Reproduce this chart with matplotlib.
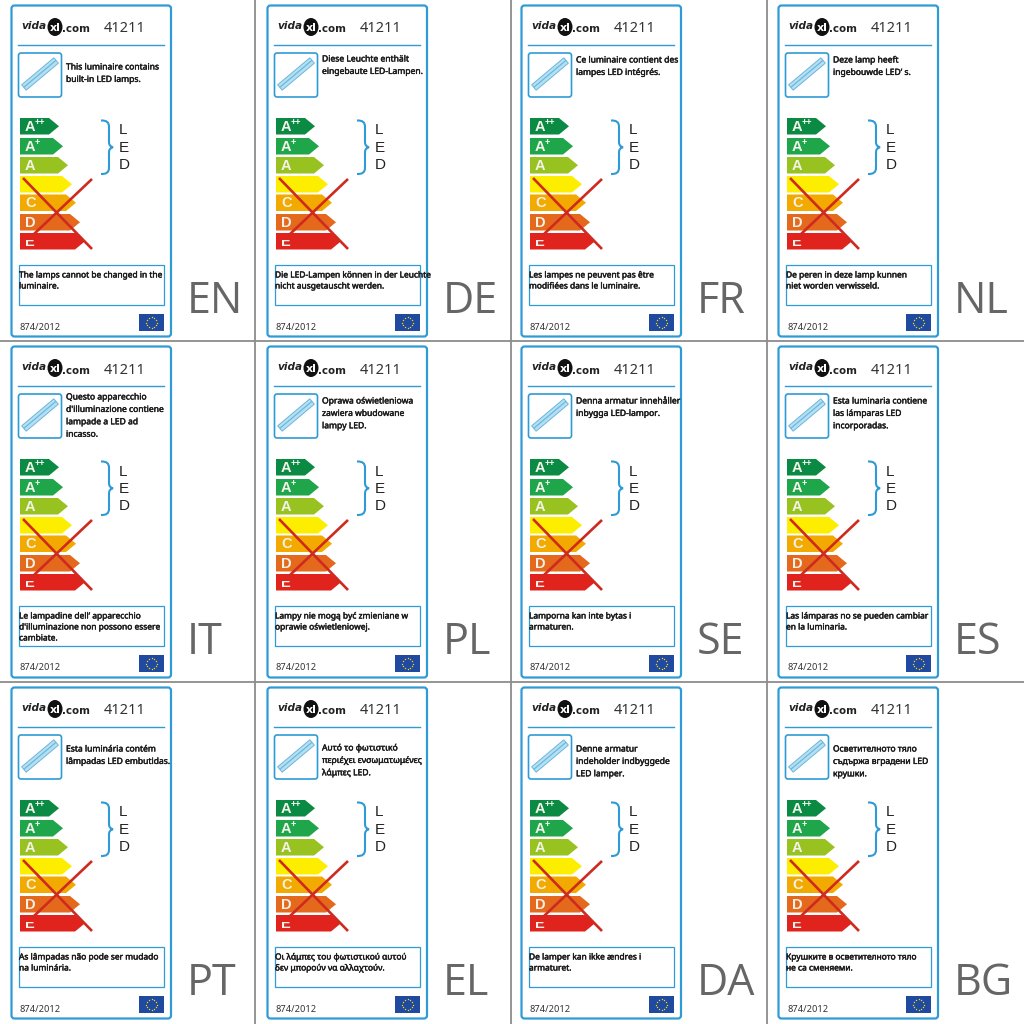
import numpy as np
import matplotlib
matplotlib.use("Agg")
import matplotlib.pyplot as plt
import matplotlib.patheffects as pe
from matplotlib.patches import Polygon, FancyBboxPatch, Rectangle, PathPatch, Ellipse
from matplotlib.path import Path
from matplotlib.transforms import Affine2D

langs = ["EN","DE","FR","NL","IT","PL","SE","ES","PT","EL","DA","BG"]
top_texts = [
 ["This luminaire contains","built-in LED lamps."],
 ["Diese Leuchte enthält","eingebaute LED-Lampen."],
 ["Ce luminaire contient des","lampes LED intégrés."],
 ["Deze lamp heeft","ingebouwde LED’ s."],
 ["Questo apparecchio","d'illuminazione contiene","lampade a LED ad","incasso."],
 ["Oprawa oświetleniowa","zawiera wbudowane","lampy LED."],
 ["Denna armatur innehåller","inbygga LED-lampor."],
 ["Esta luminaria contiene","las lámparas LED","incorporadas."],
 ["Esta luminária contém","lâmpadas LED embutidas."],
 ["Αυτό το φωτιστικό","περιέχει ενσωματωμένες","λάμπες LED."],
 ["Denne armatur","indeholder indbyggede","LED lamper."],
 ["Осветителното тяло","съдържа вградени LED","крушки."],
]
top_y = [67,59,60,60,56,60,60,60,67,66,67,67]
bottom_texts = [
 ["The lamps cannot be changed in the","luminaire."],
 ["Die LED-Lampen können in der Leuchte","nicht ausgetauscht werden."],
 ["Les lampes ne peuvent pas être","modifiées dans le luminaire."],
 ["De peren in deze lamp kunnen","niet worden verwisseld."],
 ["Le lampadine dell’ apparecchio","d'illuminazione non possono essere","cambiate."],
 ["Lampy nie mogą być zmieniane w","oprawie oświetleniowej."],
 ["Lamporna kan inte bytas i","armaturen."],
 ["Las lámparas no se pueden cambiar","en la luminaria."],
 ["As lâmpadas não pode ser mudado","na luminária."],
 ["Οι λάμπες του φωτιστικού αυτού","δεν μπορούν να αλλαχτούν."],
 ["De lamper kan ikke ændres i","armaturet."],
 ["Крушките в осветителното тяло","не са сменяеми."],
]
classes = ["A++","A+","A","B","C","D","E"]
class_labels = ["A","A","A","","C","D","E"]
class_sups = ["++","+","","","","",""]
class_colors = ["#0b8a43","#1fa54a","#97c21f","#fdee00","#f2a900","#e4691c","#e0231c"]
class_tops = [118,138,157,176,194.5,214,233]
class_tips = [59,63,68,72,76,80,85]
col_x = [0,256,510,767]
row_y = [0,341,682]
grid_x = [255,511,767]
grid_y = [341,682]
model = "41211"
regulation = "874/2012"
BLUE = "#2f9bd6"
FONT = ["Noto Sans","DejaVu Sans"]
FAUX = [pe.withStroke(linewidth=0.3,foreground="#1a1a1a")]

fig = plt.figure(figsize=(10.24,10.24), dpi=100, facecolor="white")
ax = fig.add_axes([0,0,1,1])
ax.set_xlim(0,1024); ax.set_ylim(1024,0); ax.axis("off")

for g in grid_x:
    ax.plot([g,g],[0,1024],color="#8c8c8c",lw=1.3)
for g in grid_y:
    ax.plot([0,1024],[g,g],color="#8c8c8c",lw=1.3)

def t(x,y,s,**k):
    k.setdefault("family",FONT)
    k.setdefault("va","center")
    k.setdefault("ha","left")
    return ax.text(x,y,s,**k)

for i,lang in enumerate(langs):
    dx = col_x[i%4]; dy = row_y[i//4]
    X = lambda v: v+dx
    Y = lambda v: v+dy
    # card
    ax.add_patch(FancyBboxPatch((X(11.5),Y(5.5)),159.5,331,boxstyle="round,pad=0,rounding_size=3",
                 fc="white",ec=BLUE,lw=1.6))
    # logo
    t(X(21),Y(26),"vida",fontsize=7.6,fontweight="bold",style="italic",color="#222222",family=["DejaVu Sans"])
    ax.add_patch(Ellipse((X(55),Y(27)),15,18,fc="#111111",ec="none"))
    t(X(55),Y(28),"xl",fontsize=8,fontweight="bold",color="white",ha="center",family=["DejaVu Sans"])
    t(X(62),Y(29.5),".com",fontsize=7.4,fontweight="bold",color="#222222",family=["DejaVu Sans"])
    t(X(104),Y(29),model,fontsize=10.5,color="#333333")
    ax.plot([X(18),X(164)],[Y(45),Y(45)],color=BLUE,lw=1)
    # lamp icon
    ax.add_patch(FancyBboxPatch((X(18.5),Y(53)),43,44,boxstyle="round,pad=0,rounding_size=2.5",
                 fc="white",ec=BLUE,lw=1.2))
    tr = Affine2D().rotate_deg_around(X(40),Y(74),-40)+ax.transData
    ax.add_patch(Rectangle((X(19),Y(70.5)),42,7,fc="#b5e0f4",ec="#6ab6dc",lw=0.7,transform=tr))
    ax.add_patch(Rectangle((X(19),Y(73.2)),42,1.2,fc="#6ab6dc",ec="none",transform=tr))
    for n,line in enumerate(top_texts[i]):
        t(X(66),Y(top_y[i])+n*12.4,line,fontsize=6.15,color="#1a1a1a",path_effects=FAUX)
    # energy arrows
    for c,top,tip,col,lab,sup in zip(classes,class_tops,class_tips,class_colors,class_labels,class_sups):
        h=16.5
        ax.add_patch(Polygon([(X(20),Y(top)),(X(tip-10),Y(top)),(X(tip),Y(top+h/2)),
                              (X(tip-10),Y(top+h)),(X(20),Y(top+h))],closed=True,fc=col,ec="none"))
        if lab:
            tx = t(X(25),Y(top+h/2+0.5),lab,fontsize=10.5,fontweight="bold",color="#f2f2e8",family=["Liberation Sans"])
            if c == "E":
                tx.set_clip_on(True)
                tx.set_clip_path(Rectangle((X(20),Y(top+7)),20,6.5,transform=ax.transData))
        if sup:
            t(X(35),Y(top+4.5),sup,fontsize=6.5,fontweight="bold",color="white",family=["Liberation Sans"])
    # cross
    ax.plot([X(23),X(92)],[Y(178),Y(249)],color="#cf2a1f",lw=1.9,solid_capstyle="butt")
    ax.plot([X(92),X(33)],[Y(179),Y(235)],color="#cf2a1f",lw=1.9,solid_capstyle="butt")
    # brace
    bx,bt,bb=X(101),Y(120.5),Y(174)
    bm=(bt+bb)/2
    codes=[Path.MOVETO,Path.CURVE3,Path.CURVE3,Path.LINETO,Path.LINETO,Path.CURVE3,Path.CURVE3,
           Path.CURVE3,Path.CURVE3,Path.LINETO,Path.CURVE3,Path.CURVE3,Path.LINETO]
    verts=[(bx,bt),(bx+8,bt-0.5),(bx+8,bt+6),(bx+8,bm-6),(bx+8,bm-5),(bx+8,bm-1),(bx+12,bm),
           (bx+8,bm+1),(bx+8,bm+5),(bx+8,bb-6),(bx+8,bb+0.5),(bx,bb),(bx,bb)]
    ax.add_patch(PathPatch(Path(verts,codes),fc="none",ec=BLUE,lw=1.5))
    for ch,yy in zip("LED",[130.5,148,165]):
        t(X(119),Y(yy),ch,fontsize=11,color="#222222",family=["Liberation Sans"])
    # lower box
    ax.add_patch(Rectangle((X(19),Y(264.5)),145,40,fc="white",ec=BLUE,lw=0.9))
    for n,line in enumerate(bottom_texts[i]):
        t(X(19),Y(275)+n*11,line,fontsize=6.05,color="#1a1a1a",path_effects=FAUX)
    t(X(20),Y(327),regulation,fontsize=6.7,color="#333333")
    # flag
    ax.add_patch(Rectangle((X(139),Y(314)),25,17,fc="#1f4aa0",ec="none"))
    ang=np.deg2rad(np.arange(0,360,30))
    ax.scatter(X(151.5)+5.5*np.cos(ang),Y(322.5)+5.5*np.sin(ang),s=1,c="#f4d80e",linewidths=0)
    t(X(187),Y(301.5),lang,fontsize=31,color="#666666",family=["Open Sans","Noto Sans"])

fig.savefig("out.png",dpi=100,facecolor="white")
